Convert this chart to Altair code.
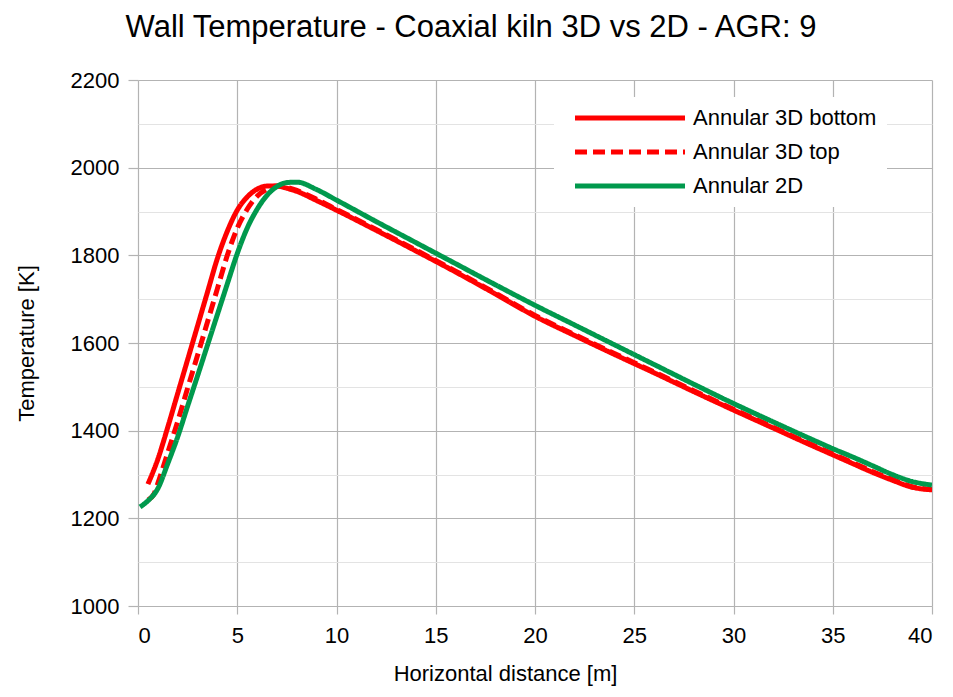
import altair as alt
import pandas as pd

bottom_x = [0.5, 1.0, 1.5, 2.0, 2.5, 3.0, 3.5, 4.0, 4.5, 5.0, 5.5, 6.0, 6.5, 7.0, 7.5, 8.0, 9.0, 10, 12, 14, 16, 18, 20, 22, 24, 26, 28, 30, 32, 34, 35, 36, 37, 38, 39, 40]
bottom_y = [1278, 1335, 1408, 1485, 1562, 1639, 1716, 1793, 1855, 1903, 1933, 1951, 1958, 1958, 1953, 1946, 1925, 1903, 1857, 1810, 1762, 1712, 1661, 1617, 1574, 1532, 1489, 1447, 1406, 1365, 1345, 1325, 1305, 1287, 1271, 1265]

top_x = [0.5, 0.8, 1.0, 1.5, 2.0, 2.5, 3.0, 3.5, 4.0, 4.5, 5.0, 5.5, 6.0, 6.5, 7.0, 7.5, 8.0, 9.0, 10, 12, 14, 16, 18, 20, 22, 24, 26, 28, 30, 32, 34, 35, 36, 37, 38, 39, 40]
top_y = [1242, 1255, 1280, 1350, 1421, 1497, 1572, 1648, 1724, 1800, 1862, 1905, 1935, 1951, 1958, 1955, 1948, 1928, 1905, 1859, 1812, 1764, 1714, 1663, 1619, 1576, 1534, 1491, 1449, 1408, 1367, 1347, 1327, 1307, 1289, 1272, 1266]

twod_x = [0.1, 0.5, 1.0, 1.5, 2.0, 2.5, 3.0, 3.5, 4.0, 4.5, 5.0, 5.5, 6.0, 6.5, 7.0, 7.5, 8.0, 9.0, 10, 12, 14, 16, 18, 20, 22, 24, 26, 28, 30, 32, 34, 35, 36, 37, 38, 39, 40]
twod_y = [1226, 1240, 1268, 1325, 1386, 1456, 1525, 1595, 1665, 1735, 1804, 1862, 1905, 1937, 1957, 1966, 1967, 1950, 1926, 1877, 1829, 1781, 1733, 1686, 1641, 1596, 1551, 1506, 1462, 1420, 1379, 1359, 1340, 1320, 1300, 1284, 1276]

series = ["Annular 3D bottom", "Annular 3D top", "Annular 2D"]
colors = ["#ff0000", "#ff0000", "#00994d"]
dashes = [[1, 0], [12, 6], [1, 0]]

rows = []
for name, xs, ys in zip(series, [bottom_x, top_x, twod_x], [bottom_y, top_y, twod_y]):
    for i, (x, y) in enumerate(zip(xs, ys)):
        rows.append({"series": name, "x": x, "T": y, "order": i})
df = pd.DataFrame(rows)

y_values = list(range(1000, 2201, 100))
x_values = list(range(0, 41, 5))

FONT = "Liberation Sans"

chart = alt.Chart(df).mark_line(strokeWidth=5, interpolate="monotone", clip=True).encode(
    x=alt.X("x:Q", scale=alt.Scale(domain=[0, 40], nice=False),
            axis=alt.Axis(values=x_values, format="d", title="Horizontal distance [m]",
                          tickSize=8, labelPadding=11, titlePadding=17, titleX=367,
                          labelFontSize=22, titleFontSize=22,
                          labelFont=FONT, titleFont=FONT,
                          labelColor="#000000", titleColor="#000000", titleFontWeight="normal",
                          tickColor="#b3b3b3", tickWidth=1.2,
                          domain=False, gridColor="#b3b3b3", gridWidth=1.2)),
    y=alt.Y("T:Q", scale=alt.Scale(domain=[1000, 2200], nice=False),
            axis=alt.Axis(values=y_values, format="d", title="Temperature [K]",
                          tickSize=10, labelPadding=9, titlePadding=32,
                          labelFontSize=22, titleFontSize=22,
                          labelFont=FONT, titleFont=FONT,
                          labelColor="#000000", titleColor="#000000", titleFontWeight="normal",
                          labelExpr="datum.value % 200 == 0 ? datum.label : ''",
                          tickColor="#b3b3b3", tickWidth=1.2,
                          tickOpacity=alt.condition("datum.value % 200 == 0", alt.value(1), alt.value(0)),
                          domain=False,
                          gridColor=alt.condition("datum.value % 200 == 0", alt.value("#b3b3b3"), alt.value("#e3e3e3")),
                          gridWidth=1.2)),
    color=alt.Color("series:N", scale=alt.Scale(domain=series, range=colors),
                    legend=alt.Legend(title=None, orient="none", legendX=416, legendY=17,
                                      symbolType="M0,0H20", symbolSize=121, symbolStrokeWidth=5,
                                      symbolFillColor="transparent",
                                      labelFontSize=22, labelFont=FONT, labelColor="#000000",
                                      labelLimit=400, fillColor="#ffffff", padding=10,
                                      rowPadding=12, labelOffset=107)),
    strokeDash=alt.StrokeDash("series:N", scale=alt.Scale(domain=series, range=dashes), legend=None),
    order="order:Q",
).properties(
    width=794, height=526,
    autosize=alt.AutoSizeParams(type="none"),
    padding={"left": 130, "top": 72, "right": 13, "bottom": 83},
    title=alt.Title("Wall Temperature - Coaxial kiln 3D vs 2D - AGR: 9", fontSize=31,
                    font=FONT, fontWeight="normal", color="#000000",
                    anchor="middle", dx=-64, offset=25),
).configure_view(stroke=None)

chart.save("out.html", embed_options={"renderer": "svg", "actions": False})
